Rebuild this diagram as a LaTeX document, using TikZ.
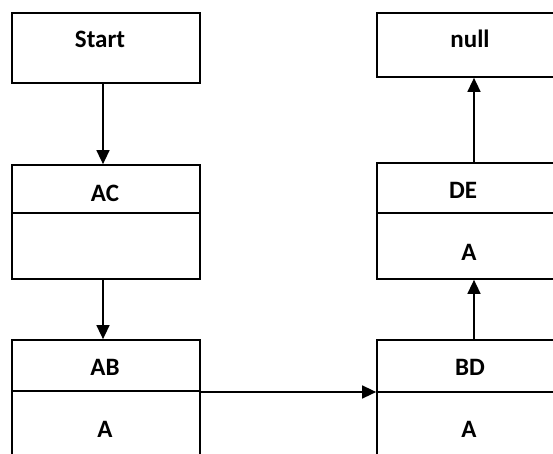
\documentclass[tikz,border=0pt]{standalone}
\usepackage{fontspec}
\setmainfont{Carlito}
\usetikzlibrary{arrows.meta}
\begin{document}
\begin{tikzpicture}[x=1pt,y=1pt,
  box/.style={draw=black, line width=1.7pt, rectangle, inner sep=0pt, minimum width=188pt},
  lbl/.style={anchor=base, inner sep=0pt, font=\bfseries\fontsize{25}{30}\selectfont},
  divline/.style={line width=1.3pt},
  arr/.style={line width=1.4pt, -{Triangle[length=14pt,width=13pt]}}]
\useasboundingbox (0,0) rectangle (553,453);
\clip (0,0) rectangle (553,453);
% left column
\node[box, minimum height=70pt]  (start) at (106,405) {};
\node[box, minimum height=114pt] (ac)    at (106,231) {};
\node[box, minimum height=140pt] (ab)    at (106,43)  {};
% right column
\node[box, minimum height=64pt]  (null)  at (471,408) {};
\node[box, minimum height=116pt] (de)    at (471,232) {};
\node[box, minimum height=140pt] (bd)    at (471,43)  {};
% dividers
\coordinate (acdiv) at (0,240);
\coordinate (abdiv) at (0,62);
\coordinate (dediv) at (0,240);
\coordinate (bddiv) at (0,61);
\draw[divline] (ac.west |- acdiv) -- (ac.east |- acdiv);
\draw[divline] (ab.west |- abdiv) -- (ab.east |- abdiv);
\draw[divline] (de.west |- dediv) -- (de.east |- dediv);
\draw[divline] (bd.west |- bddiv) -- (bd.east |- bddiv);
% labels
\node[lbl] (tstart) at (100,405) {Start};
\node[lbl] (tac)    at (105,252) {AC};
\node[lbl] (tab)    at (105,78)  {AB};
\node[lbl] (taba)   at (105,16)  {A};
\node[lbl] (tnull)  at (470,405) {null};
\node[lbl] (tde)    at (463,255) {DE};
\node[lbl] (tdea)   at (469,193) {A};
\node[lbl] (tbd)    at (470,78)  {BD};
\node[lbl] (tbda)   at (469,16)  {A};
% connectors
\draw[arr] ([xshift=-3pt]start.south) -- ([xshift=-3pt]ac.north);
\draw[arr] ([xshift=-3pt]ac.south) -- ([xshift=-3pt]ab.north);
\draw[arr] (ab.east |- bddiv) -- (bd.west |- bddiv);
\draw[arr] ([xshift=3pt]bd.north) -- ([xshift=3pt]de.south);
\draw[arr] ([xshift=3pt]de.north) -- ([xshift=3pt]null.south);
\end{tikzpicture}
\end{document}
